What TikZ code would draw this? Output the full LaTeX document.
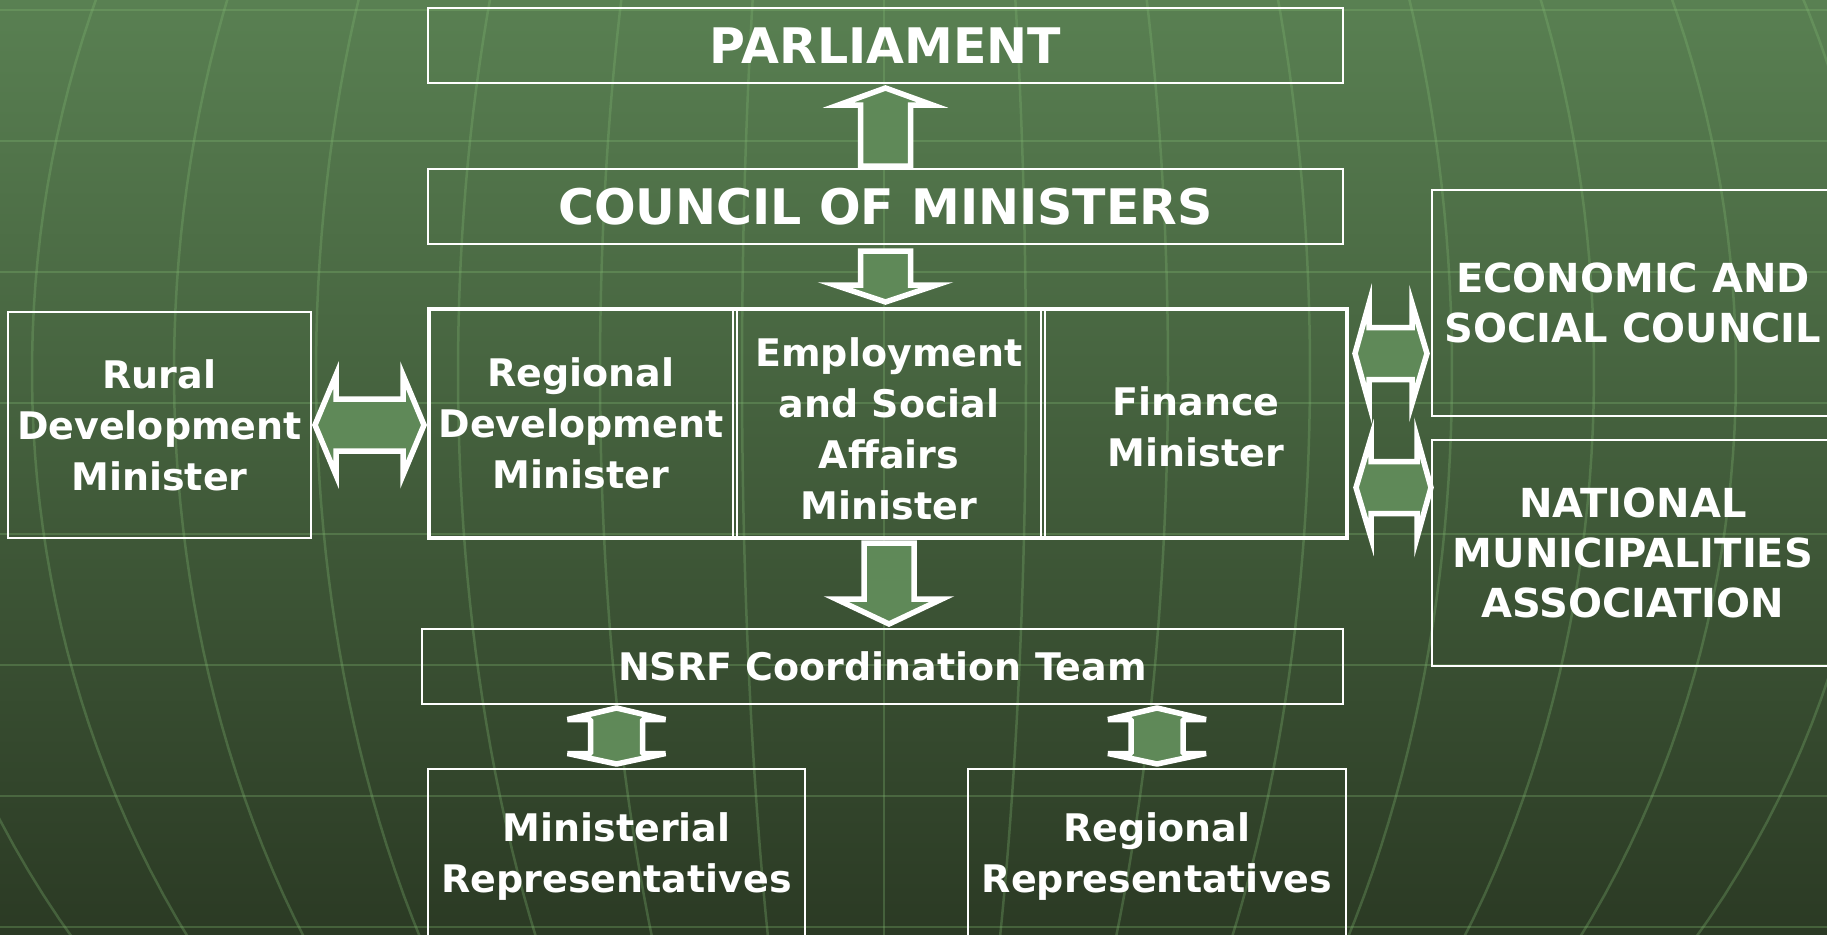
\documentclass[tikz,border=0pt]{standalone}
\usepackage{fontspec}
\setmainfont{DejaVu Sans}
\usetikzlibrary{calc,fit}
\definecolor{bgtop}{RGB}{89,128,82}
\definecolor{bgbot}{RGB}{43,58,36}
\definecolor{gridgreen}{RGB}{130,185,115}
\definecolor{arrowgreen}{RGB}{95,137,88}
\tikzset{
  box/.style={draw=white, line width=2.6pt, text=white, align=center, inner sep=0pt, outer sep=0pt,
    font=\fontsize{38}{51}\selectfont\bfseries},
  titlebox/.style={box, font=\fontsize{49}{58}\selectfont\bfseries},
  capsbox/.style={box, font=\fontsize{40}{50}\selectfont\bfseries},
  ministerframe/.style={draw=white, line width=4.5pt, inner sep=0pt, outer sep=0pt},
  blockarrow/.style={draw=white, fill=arrowgreen, line width=5.5pt},
  gridline/.style={gridgreen, opacity=0.3, line width=2.5pt},
}
\begin{document}
\begin{tikzpicture}[x=1pt,y=-1pt]
  \useasboundingbox (0,0) rectangle (1827,934);
  \clip (0,0) rectangle (1827,934);
  \fill[top color=bgtop, bottom color=bgbot] (0,0) rectangle (1827,934);
  \foreach \k in {0,...,7}
    \draw[gridline] (0,10+131*\k) -- (1827,10+131*\k);
  \foreach \k in {-7,...,7}
    \draw[gridline] plot[domain=-10:944, samples=40, variable=\t]
      ({884+142*(\k)*sqrt(1-((\t-372)/980)^2)},\t);

  \node[titlebox, minimum width=915, minimum height=75] (parl) at (885.5,45.5) {PARLIAMENT};
  \node[titlebox, minimum width=915, minimum height=75] (council) at (885.5,206.5) {COUNCIL OF MINISTERS};
  \node[box, minimum width=303, minimum height=226] (rural) at (159.5,425) {Rural\\Development\\Minister};
  \node[box, minimum width=304, minimum height=229] (regdev) at (581,423.5) {Regional\\Development\\Minister};
  \node[box, minimum width=304, minimum height=229] (employ) at (889,423.5) {\rule{0pt}{39pt}Employment\\and Social\\Affairs\\Minister};
  \node[box, minimum width=302, minimum height=229] (finance) at (1196,423.5) {\rule{0pt}{35pt}Finance\\Minister};
  \node[ministerframe, fit=(regdev)(employ)(finance)] (ministers) {};
  \node[capsbox, minimum width=402, minimum height=226] (ecosoc) at (1633,303) {ECONOMIC AND\\SOCIAL COUNCIL};
  \node[capsbox, minimum width=402, minimum height=226] (nma) at (1633,553) {NATIONAL\\MUNICIPALITIES\\ASSOCIATION};
  \node[box, minimum width=921, minimum height=75] (nsrf) at (882.5,666.5) {NSRF Coordination Team};
  \node[box, minimum width=377, minimum height=176] (minrep) at (616.5,857) {Ministerial\\Representatives};
  \node[box, minimum width=378, minimum height=176] (regrep) at (1157,857) {Regional\\Representatives};

  \draw[blockarrow] ($(council.north)+(-25,-3)$) -- ($(parl.south)+(-25,22)$) -- ($(parl.south)+(-47,22)$)
    -- ($(parl.south)+(0,5)$) -- ($(parl.south)+(47,22)$) -- ($(parl.south)+(25,22)$)
    -- ($(council.north)+(25,-3)$) -- cycle;
  \draw[blockarrow] ($(council.south)+(-25,7)$) -- ($(council.south)+(-25,41)$) -- ($(council.south)+(-51,41)$)
    -- ($(council.south |- ministers.north)+(0,-7)$) -- ($(council.south)+(51,41)$) -- ($(council.south)+(25,41)$)
    -- ($(council.south)+(25,7)$) -- cycle;
  \draw[blockarrow] ($(employ.south)+(-25,5)$) -- ($(employ.south)+(-25,61)$) -- ($(employ.south)+(-53,61)$)
    -- ($(employ.south |- nsrf.north)+(0,-5)$) -- ($(employ.south)+(53,61)$) -- ($(employ.south)+(25,61)$)
    -- ($(employ.south)+(25,5)$) -- cycle;
  \draw[blockarrow] ($(rural.east)+(4,0)$) -- ($(rural.east)+(25,-50)$) -- ($(rural.east)+(25,-26)$)
    -- ($(regdev.west |- rural.east)+(-26,-26)$) -- ($(regdev.west |- rural.east)+(-26,-50)$)
    -- ($(regdev.west |- rural.east)+(-5,0)$) -- ($(regdev.west |- rural.east)+(-26,50)$)
    -- ($(regdev.west |- rural.east)+(-26,26)$) -- ($(rural.east)+(25,26)$) -- ($(rural.east)+(25,50)$) -- cycle;

  \coordinate (fe1) at ($(finance.east)+(8,-70)$);
  \coordinate (es1) at ($(ecosoc.west |- fe1)+(-5,0)$);
  \draw[blockarrow] (fe1) -- ++(14,-50) -- ++(0,24) -- ($(es1)+(-15,-26)$) -- ++(0,-24) -- (es1)
    -- ++(-15,50) -- ++(0,-24) -- ($(fe1)+(14,26)$) -- ++(0,24) -- cycle;
  \coordinate (fe2) at ($(finance.east)+(9,64)$);
  \coordinate (nm2) at ($(nma.west |- fe2)+(-1,0)$);
  \draw[blockarrow] (fe2) -- ++(15,-50) -- ++(0,24) -- ($(nm2)+(-14,-26)$) -- ++(0,-24) -- (nm2)
    -- ++(-14,50) -- ++(0,-24) -- ($(fe2)+(15,26)$) -- ++(0,24) -- cycle;

  \coordinate (t1) at ($(minrep.north |- nsrf.south)+(0,4)$);
  \coordinate (b1) at ($(minrep.north)+(0,-5)$);
  \draw[blockarrow, line join=bevel] (t1) -- ++(49,11.5) -- ++(-23,0) -- ($(b1)+(26,-10.5)$) -- ++(23,0) -- (b1)
    -- ++(-49,-10.5) -- ++(23,0) -- ($(t1)+(-26,11.5)$) -- ++(-23,0) -- cycle;
  \coordinate (t2) at ($(regrep.north |- nsrf.south)+(0,4)$);
  \coordinate (b2) at ($(regrep.north)+(0,-5)$);
  \draw[blockarrow, line join=bevel] (t2) -- ++(49,11.5) -- ++(-23,0) -- ($(b2)+(26,-10.5)$) -- ++(23,0) -- (b2)
    -- ++(-49,-10.5) -- ++(23,0) -- ($(t2)+(-26,11.5)$) -- ++(-23,0) -- cycle;
\end{tikzpicture}
\end{document}
